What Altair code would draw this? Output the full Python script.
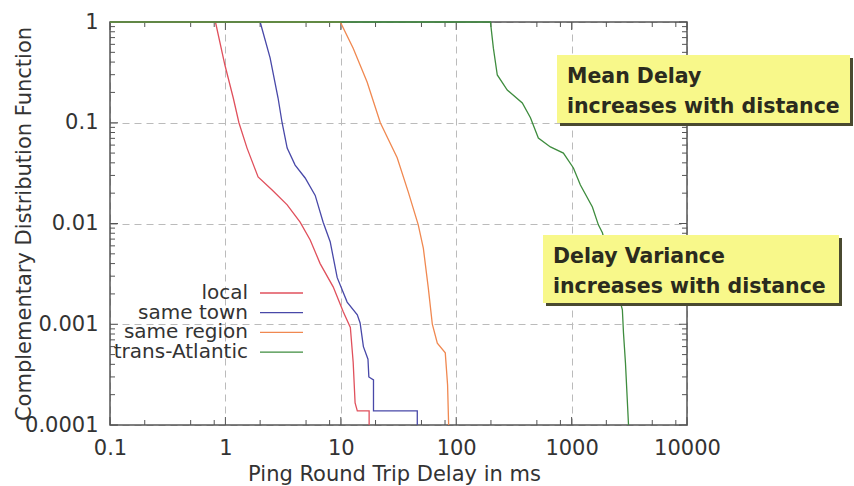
import altair as alt
import pandas as pd

# CCDF of ping round-trip delay (ms) for four path lengths
series_names = ["local", "same town", "same region", "trans-Atlantic"]
series_colors = ["#e0505c", "#4848a8", "#f08850", "#3e8c3e"]

local_delay = [0.1, 0.82, 0.99, 1.17, 1.31, 1.54, 1.92, 2.54, 3.43, 4.44, 5.43,
               6.62, 8.59, 10.5, 12.1, 12.8, 13.3, 13.9, 17.6, 17.6]
local_ccdf = [1, 1, 0.374, 0.176, 0.1, 0.056, 0.029, 0.0215, 0.0153, 0.0103, 0.00687,
              0.0040, 0.00235, 0.00133, 0.00093, 0.00042, 0.000166, 0.000138, 0.000138, 0.0001]

town_delay = [0.1, 2.0, 2.44, 2.86, 3.1, 3.43, 4.02, 4.91, 6.0, 7.03, 8.09, 9.31,
              11.35, 13.9, 14.7, 15.7, 17.2, 17.5, 19.2, 19.2, 46, 46]
town_ccdf = [1, 1, 0.44, 0.176, 0.1, 0.056, 0.038, 0.0283, 0.019, 0.0103, 0.0066, 0.0029,
             0.00166, 0.00124, 0.00103, 0.0006, 0.00045, 0.0003, 0.00028, 0.000138, 0.000138, 0.0001]

region_delay = [0.1, 9.9, 12.8, 16.9, 22.0, 30.8, 38.4, 46.9, 51.9, 57.3, 62.1,
                68.6, 80.4, 84.2, 86]
region_ccdf = [1, 1, 0.55, 0.254, 0.1, 0.045, 0.0206, 0.0097, 0.0057, 0.0023, 0.001,
               0.00065, 0.00052, 0.00025, 0.0001]

atlantic_delay = [0.1, 198, 210, 227, 277, 374, 440, 515, 655, 849, 1037, 1192,
                  1514, 1706, 1849, 2754, 2816, 2930, 3113]
atlantic_ccdf = [1, 1, 0.55, 0.298, 0.211, 0.157, 0.112, 0.0706, 0.0575, 0.05, 0.0356,
                 0.0241, 0.0146, 0.0097, 0.0081, 0.00139, 0.00082, 0.00041, 0.0001]

x_major = [0.1, 1, 10, 100, 1000, 10000]
y_major = [0.0001, 0.001, 0.01, 0.1, 1]
x_minor = [m * d for d in [0.1, 1, 10, 100, 1000] for m in (2, 5, 8)]
y_minor = [m * d for d in [0.0001, 0.001, 0.01, 0.1] for m in range(2, 10)]

note_mean = ["Mean Delay", "increases with distance"]
note_var = ["Delay Variance", "increases with distance"]

FONT = "DejaVu Sans"
FRAME = "#555555"
W, H = 577, 403

frames = []
for name, xs, ys in zip(series_names,
                        [local_delay, town_delay, region_delay, atlantic_delay],
                        [local_ccdf, town_ccdf, region_ccdf, atlantic_ccdf]):
    frames.append(pd.DataFrame({"series": name, "delay": xs, "ccdf": ys,
                                "step": range(len(xs))}))
df = pd.concat(frames, ignore_index=True)

x_scale = alt.Scale(type="log", domain=[0.1, 10000], nice=False)
y_scale = alt.Scale(type="log", domain=[0.0001, 1], nice=False)

x_axis = alt.Axis(values=x_major, format="~g", title="Ping Round Trip Delay in ms",
                  grid=True, gridDash=[7, 5], gridColor="#bbbbbb", gridWidth=1,
                  ticks=False, domain=False, labelPadding=12, labelFlush=False,
                  labelOverlap=False,
                  titleX=284, titleY=55, titleBaseline="alphabetic", titleAlign="center")
y_axis = alt.Axis(values=y_major, format="~g", title="Complementary Distribution Function",
                  grid=True, gridDash=[7, 5], gridColor="#bbbbbb", gridWidth=1,
                  ticks=False, domain=False, labelPadding=12, labelFlush=False,
                  labelOverlap=False,
                  titleX=-86, titleY=H / 2, titleBaseline="middle", titleAlign="center")

# plot frame, drawn beneath the curves so the CCDF=1 segments sit on top of it
frame = alt.Chart(pd.DataFrame({"delay": [0.1]})).mark_rect(
    filled=False, stroke=FRAME, strokeWidth=1.5).encode(
    x=alt.value(0), x2=alt.value(W), y=alt.value(0), y2=alt.value(H))

lines = alt.Chart(df).mark_line(strokeWidth=1.3).encode(
    x=alt.X("delay:Q", scale=x_scale, axis=x_axis),
    y=alt.Y("ccdf:Q", scale=y_scale, axis=y_axis),
    color=alt.Color("series:N", scale=alt.Scale(domain=series_names, range=series_colors),
                    legend=None),
    order="step:Q",
)

# inward tick marks on all four sides of the frame
def x_ticks(vals, length):
    d = pd.DataFrame({"delay": vals})
    bottom = alt.Chart(d).mark_rule(color=FRAME, strokeWidth=1).encode(
        x=alt.X("delay:Q", scale=x_scale), y=alt.value(H), y2=alt.value(H - length))
    top = alt.Chart(d).mark_rule(color=FRAME, strokeWidth=1).encode(
        x=alt.X("delay:Q", scale=x_scale), y=alt.value(0), y2=alt.value(length))
    return [bottom, top]


def y_ticks(vals, length):
    d = pd.DataFrame({"ccdf": vals})
    left = alt.Chart(d).mark_rule(color=FRAME, strokeWidth=1).encode(
        y=alt.Y("ccdf:Q", scale=y_scale), x=alt.value(0), x2=alt.value(length))
    right = alt.Chart(d).mark_rule(color=FRAME, strokeWidth=1).encode(
        y=alt.Y("ccdf:Q", scale=y_scale), x=alt.value(W), x2=alt.value(W - length))
    return [left, right]


ticks = x_ticks(x_minor, 5) + x_ticks(x_major, 8) + y_ticks(y_minor, 5) + y_ticks(y_major, 8)

# legend drawn inside the plot, labels to the left of the line samples
leg_df = pd.DataFrame({"series": series_names})
legend_layers = []
for i, (name, col) in enumerate(zip(series_names, series_colors)):
    yy = 271 + i * 19.7
    one = leg_df[leg_df.series == name]
    legend_layers.append(alt.Chart(one).mark_text(
        align="right", baseline="middle", font=FONT, fontSize=20, color="#333").encode(
        x=alt.value(138), y=alt.value(yy), text="series:N"))
    legend_layers.append(alt.Chart(one).mark_rule(color=col, strokeWidth=1.3).encode(
        x=alt.value(150), x2=alt.value(193), y=alt.value(yy)))

# yellow call-out boxes with drop shadow
def callout(x0, y0, x1, y1, lines_text):
    d = pd.DataFrame({"line": lines_text})
    shadow = alt.Chart(d.head(1)).mark_rect(color="#4a4a30").encode(
        x=alt.value(x0 + 3), x2=alt.value(x1 + 3), y=alt.value(y0 + 3), y2=alt.value(y1 + 3))
    box = alt.Chart(d.head(1)).mark_rect(color="#f8f88a").encode(
        x=alt.value(x0), x2=alt.value(x1), y=alt.value(y0), y2=alt.value(y1))
    layers = [shadow, box]
    for j, t in enumerate(lines_text):
        layers.append(alt.Chart(d.iloc[[j]]).mark_text(
            align="left", baseline="alphabetic", font=FONT, fontWeight="bold",
            fontSize=20.5, color="#2b2b1e").encode(
            x=alt.value(x0 + 10), y=alt.value(y0 + 28 + j * 29.5), text="line:N"))
    return layers


notes = callout(447, 33, 740, 101, note_mean) + callout(433, 213, 729, 281, note_var)

chart = alt.layer(frame, *ticks, lines, *legend_layers, *notes).properties(
    width=W, height=H,
    padding={"left": 110, "top": 22, "right": 167, "bottom": 61},
    autosize=alt.AutoSizeParams(type="none"),
    background="white",
).configure_view(
    strokeWidth=0
).configure_axis(
    labelFont=FONT, labelFontSize=21, labelColor="#333",
    titleFont=FONT, titleFontSize=21, titleColor="#333", titleFontWeight="normal",
)

chart.save("out.html", embed_options={"renderer": "svg", "actions": False})
